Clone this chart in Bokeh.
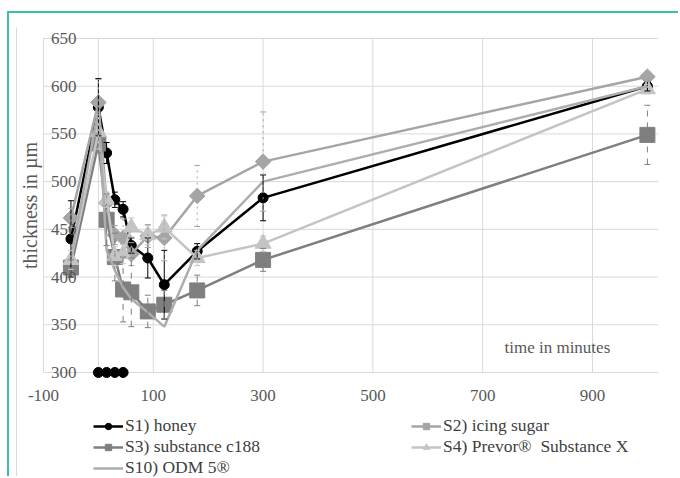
import numpy as np
from bokeh.plotting import figure
from bokeh.models import (FixedTicker, Legend, LegendItem, Label, Whisker, TeeHead,
                          ColumnDataSource, Range1d)
from bokeh.embed import file_html
from bokeh.resources import INLINE

# ---------------- data ----------------
times = [-50, 0, 15, 30, 45, 60, 90, 120, 180, 300, 1000]

s1_honey = [440, 578, 530, 481, 471, 433, 420, 392, 427, 483, 600]
s1_err = [40, 30, 11, 8, 8, 8, 21, 36, 8, 24, 5]
s1_zero_times = [0, 15, 30, 45]
s1_zero_values = [300, 300, 300, 300]

s2_icing = [462, 583, 478, 444, 441, 424, 443, 441, 485, 521, 610]
s2_err = [10, 24, 10, 10, 20, 12, 12, 24, 32, 52, 5]

s3_c188 = [410, 540, 460, 421, 387, 384, 364, 371, 386, 418, 549]
s3_err = [8, 10, 27, 25, 34, 36, 17, 15, 16, 12, 31]

s4_prevor = [418, 552, 481, 422, 424, 452, 444, 452, 420, 435, 597]
s4_err = [10, 18, 8, 10, 10, 10, 10, 12, 8, 8, 5]

s10_odm = [420, 575, 428, 407, 389, 377, 363, 348, 428, 500, 600]

x_tick_values = [-100, 100, 300, 500, 700, 900]
x_tick_labels = ["-100", "100", "300", "500", "700", "900"]
x_grid_values = [-100, 0, 100, 300, 500, 700, 900]
y_tick_values = [300, 350, 400, 450, 500, 550, 600, 650]
x_axis_end = 1020

series_labels = ["S1) honey", "S2) icing sugar", "S3) substance c188",
                 "S4) Prevor\u00ae  Substance X", "S10) ODM 5\u00ae"]

# ---------------- figure ----------------
FONT = "Liberation Serif"
W, H = 671, 465
X_MIN, X_MAX = min(x_grid_values), x_axis_end
Y_MIN, Y_MAX = min(y_tick_values), max(y_tick_values)
# the frame fills the whole canvas; the value area (-100..1020 x 300..650)
# is drawn inside it, so that axis labels, title and legend are never clipped
p = figure(width=W, height=H, x_range=Range1d(-161.9, 1060.3), y_range=Range1d(188.9, 676.2),
           output_backend="svg", toolbar_location=None,
           min_border_left=0, min_border_right=0, min_border_top=0, min_border_bottom=0)
p.styles = {"margin-left": "7px", "margin-top": "11px",
            "border-left": "2px solid #3dbfa6", "border-top": "2px solid #3dbfa6"}
p.outline_line_color = None
p.background_fill_color = "white"
p.border_fill_color = "white"

# grid lines limited to the value area
p.xgrid.visible = False
p.ygrid.visible = False
p.segment(x0=x_grid_values, y0=[Y_MIN] * len(x_grid_values),
          x1=x_grid_values, y1=[Y_MAX] * len(x_grid_values),
          line_color="#d9d9d9", line_width=1, level="underlay")
p.segment(x0=[X_MIN] * len(y_tick_values), y0=y_tick_values,
          x1=[X_MAX] * len(y_tick_values), y1=y_tick_values,
          line_color="#d9d9d9", line_width=1, level="underlay")
# light border of the chart area (left side)
p.segment(x0=[-149.1], y0=[661.5], x1=[-149.1], y1=[188.9],
          line_color="#d9d9d9", line_width=1, level="underlay")

# x axis drawn on the y = 300 line, y axis drawn on the x = 0 line
p.xaxis.ticker = FixedTicker(ticks=x_tick_values)
p.xaxis.major_label_overrides = {v: l for v, l in zip(x_tick_values, x_tick_labels)}
p.xaxis.fixed_location = Y_MIN
p.yaxis.ticker = FixedTicker(ticks=y_tick_values)
p.yaxis.fixed_location = 0
for ax in (p.xaxis, p.yaxis):
    ax.axis_line_color = None
    ax.major_tick_line_color = None
    ax.minor_tick_line_color = None
    ax.major_label_text_font = FONT
    ax.major_label_text_font_size = "17px"
    ax.major_label_text_color = "#595959"
p.xaxis.major_label_standoff = 12
p.yaxis.major_label_standoff = 16

# ---------------- series ----------------
def err_bars(vals, errs, color, dash):
    src = ColumnDataSource(dict(t=times,
                                up=[v + e for v, e in zip(vals, errs)],
                                lo=[v - e for v, e in zip(vals, errs)]))
    w = Whisker(source=src, base="t", upper="up", lower="lo", dimension="height",
                line_color=color, line_width=1, line_dash=dash,
                upper_head=TeeHead(size=6, line_color=color, line_width=1),
                lower_head=TeeHead(size=6, line_color=color, line_width=1),
                level="glyph")
    p.add_layout(w)

C1, C2, C3, C4, C10 = "#000000", "#a5a5a5", "#7f7f7f", "#c4c4c4", "#adadad"

err_bars(s1_honey, s1_err, C1, "solid")
r1l = p.line(times, s1_honey, line_color=C1, line_width=2.5)
r1s = p.scatter(times, s1_honey, marker="circle", size=10, color=C1)
p.scatter(s1_zero_times, s1_zero_values, marker="circle", size=10, color=C1)

err_bars(s2_icing, s2_err, C2, "dotted")
r2l = p.line(times, s2_icing, line_color=C2, line_width=2.5)
r2s = p.scatter(times, s2_icing, marker="square", angle=np.pi / 4, size=11, color=C2)

err_bars(s3_c188, s3_err, C3, "dashed")
r3l = p.line(times, s3_c188, line_color=C3, line_width=2.5)
r3s = p.scatter(times, s3_c188, marker="square", size=15, color=C3)

err_bars(s4_prevor, s4_err, C4, "dotted")
r4l = p.line(times, s4_prevor, line_color=C4, line_width=2.5)
r4s = p.scatter(times, s4_prevor, marker="triangle", size=16, color=C4)

r10l = p.line(times, s10_odm, line_color=C10, line_width=2.5)

# ---------------- legend (below the value area, 2 columns) ----------------
legend = Legend(items=[LegendItem(label=series_labels[0], renderers=[r1l, r1s]),
                       LegendItem(label=series_labels[2], renderers=[r3l, r3s]),
                       LegendItem(label=series_labels[4], renderers=[r10l]),
                       LegendItem(label=series_labels[1], renderers=[r2l, r2s]),
                       LegendItem(label=series_labels[3], renderers=[r4l, r4s])],
                orientation="vertical", nrows=3, location=(84, 0),
                glyph_width=30, glyph_height=16, label_height=16, label_width=286,
                label_standoff=2, spacing=0, padding=0, margin=0,
                border_line_color=None, background_fill_alpha=0,
                label_text_font=FONT, label_text_font_size="17.5px",
                label_text_line_height=0.85,
                label_text_color="#404040")
p.add_layout(legend)

# ---------------- texts ----------------
p.add_layout(Label(x=X_MIN, y=475, x_offset=-13, text="thickness in \u00b5m", angle=np.pi / 2,
                   text_align="center", text_baseline="middle", text_font=FONT,
                   text_font_size="20px", text_color="#595959"))
p.add_layout(Label(x=836, y=326, text="time in minutes", text_align="center",
                   text_baseline="middle", text_font=FONT, text_font_size="17px",
                   text_color="#595959"))

open("out.html", "w").write(file_html(p, INLINE))
